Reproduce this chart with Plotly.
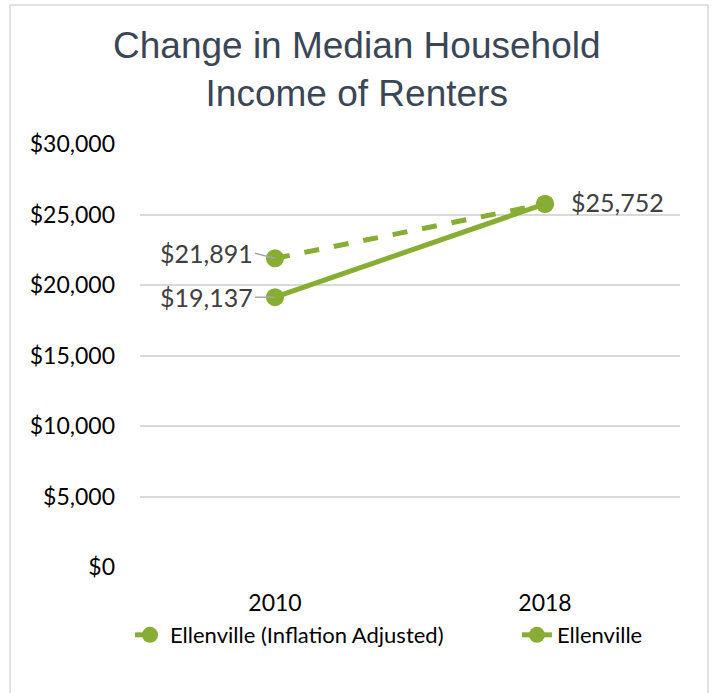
import plotly.graph_objects as go

years = ["2010", "2018"]
adjusted = [21891, 25752]
nominal = [19137, 25752]
y_ticks = [0, 5000, 10000, 15000, 20000, 25000, 30000]
y_tick_labels = ["$0", "$5,000", "$10,000", "$15,000", "$20,000", "$25,000", "$30,000"]

GREEN = "#87AD34"
TEXT = "#404040"
FONT = "Lato"

fig = go.Figure()
fig.add_trace(go.Scatter(
    x=years, y=adjusted, mode="lines+markers",
    name="Ellenville (Inflation Adjusted)",
    line=dict(color=GREEN, width=5, dash="dash"),
    marker=dict(color=GREEN, size=18),
    legend="legend",
))
fig.add_trace(go.Scatter(
    x=years, y=nominal, mode="lines+markers",
    name="Ellenville",
    line=dict(color=GREEN, width=5),
    marker=dict(color=GREEN, size=18),
    legend="legend2",
))

def fmt(v):
    return "${:,}".format(v)

label_font = dict(size=25, color=TEXT, family=FONT)
annotations = [
    dict(x=0, y=adjusted[0], xref="x", yref="y", text=fmt(adjusted[0]), showarrow=True,
         ax=-20, ay=-5, xanchor="right", arrowhead=0, arrowwidth=1.5,
         arrowcolor="#A6A6A6", standoff=0, font=label_font),
    dict(x=0, y=nominal[0], xref="x", yref="y", text=fmt(nominal[0]), showarrow=True,
         ax=-20, ay=0, xanchor="right", arrowhead=0, arrowwidth=1.5,
         arrowcolor="#A6A6A6", standoff=0, font=label_font),
    dict(x=1, y=adjusted[1], xref="x", yref="y", text=fmt(adjusted[1]), showarrow=False,
         xanchor="left", xshift=24, yshift=2, font=label_font),
    dict(x=0.4019, y=1.1765, xref="paper", yref="paper", showarrow=False,
         text="Change in Median Household<br>Income of Renters",
         xanchor="center", yanchor="middle",
         font=dict(family="Liberation Sans", size=37, color="#3A4656")),
]

legend_font = dict(size=22, color="#000000", family=FONT)
fig.update_layout(
    width=714, height=693,
    margin=dict(l=140, r=34, t=144, b=126),
    paper_bgcolor="white", plot_bgcolor="white",
    font=dict(family=FONT, color="#000000", size=22),
    showlegend=True,
    legend=dict(orientation="h", x=-0.0185, xanchor="left", y=-0.1608, yanchor="middle",
                font=legend_font),
    legend2=dict(orientation="h", x=0.698, xanchor="left", y=-0.1608, yanchor="middle",
                 font=legend_font),
    annotations=annotations,
    shapes=[dict(type="rect", xref="paper", yref="paper",
                 x0=-0.2407, x1=1.0519, y0=-0.45, y1=1.3286,
                 line=dict(color="#D9D9D9", width=1.5), layer="below")],
)
fig.update_xaxes(type="category", range=[-0.5, 1.5], showgrid=False, showline=False,
                 ticks="", ticklabelstandoff=20,
                 tickfont=dict(size=23, color="#000000", family=FONT))
fig.update_yaxes(range=[0, 30000], tickvals=y_ticks, ticktext=y_tick_labels,
                 showgrid=True, gridcolor="#D9D9D9", gridwidth=1.5, zeroline=False,
                 showline=False, ticks="", ticklabelstandoff=24,
                 tickfont=dict(size=23, color="#000000", family=FONT))

fig.write_html("out.html", config={"displayModeBar": False},
               post_script="document.body.style.margin='0';")
